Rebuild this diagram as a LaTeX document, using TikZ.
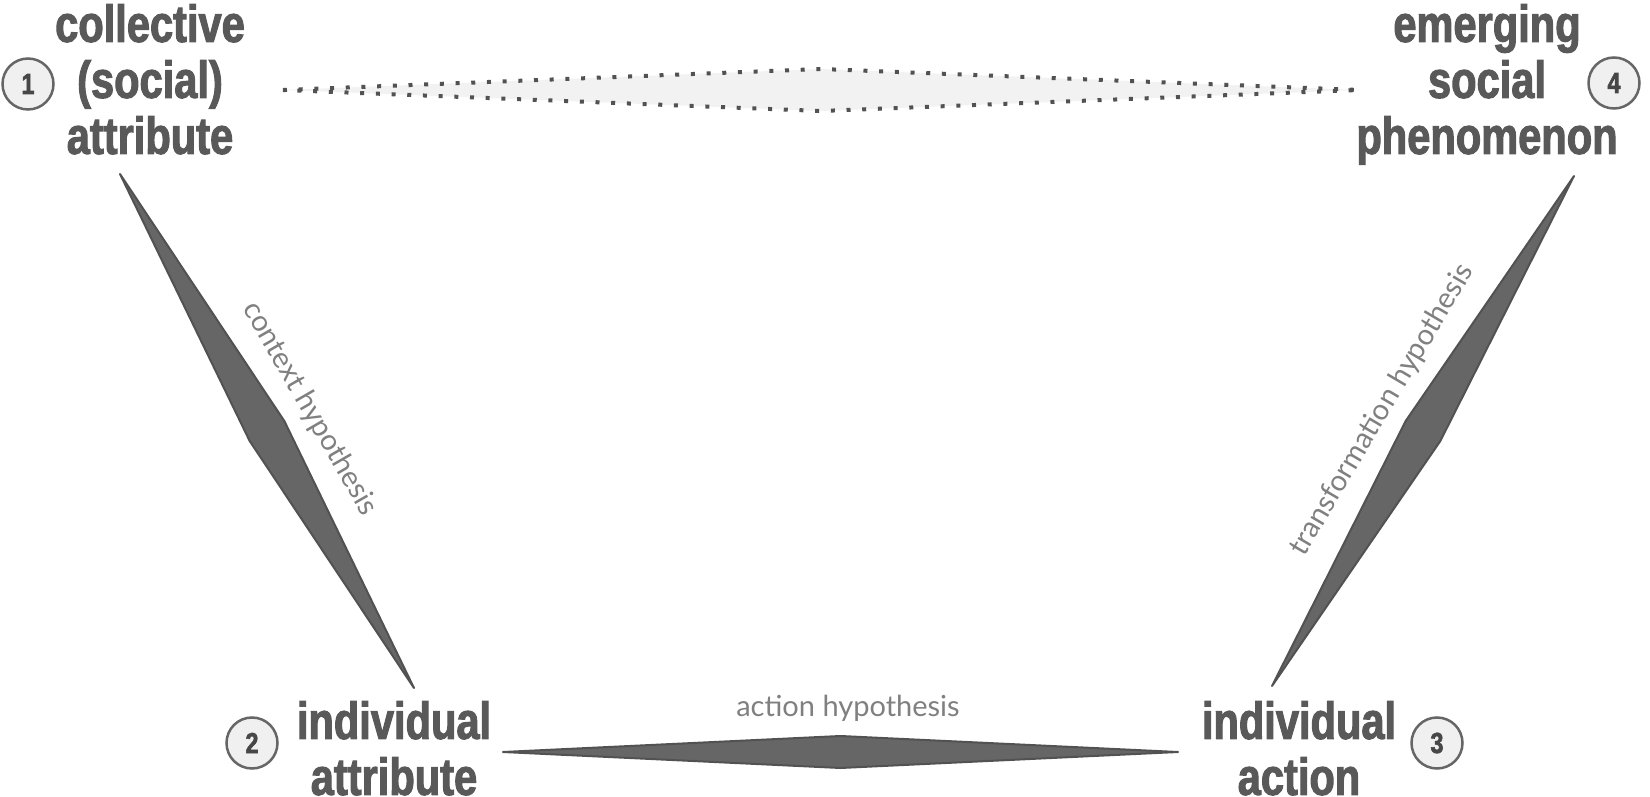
\documentclass[tikz,border=0pt]{standalone}
\usepackage{fontspec}
\setmainfont{Lato}
\newfontfamily\headfont[FakeStretch=0.8,FakeBold=2]{Liberation Sans}
\usetikzlibrary{calc}
\definecolor{inkgray}{HTML}{595959}

\begin{document}
\begin{tikzpicture}[x=1pt,y=1pt,
  level/.style={align=center, anchor=north, inner sep=0pt, text=inkgray,
    font=\headfont\bfseries\fontsize{52}{56}\selectfont},
  num/.style={circle, draw=black!60, line width=2.5pt, fill=black!6,
    minimum size=51pt, inner sep=0pt, text=black!72,
    font=\headfont\bfseries\fontsize{29}{29}\selectfont},
  hypo/.style={inner sep=0pt, text=black!50, font=\fontsize{29}{29}\selectfont},
  link/.style={fill=black!60, draw=black!68, line width=2pt, line join=round},
  weak/.style={fill=black!5, draw=black!68, line width=4pt,
    dash pattern=on 4pt off 11.7pt}]

  \useasboundingbox (0,0) rectangle (1650,796);

  % Collective level

  \node[level] (colattr) at (150,792) {collective\\(social)\\attribute};
  \node[num] (num1) at (28,712) {1};

  \node[level] (emsoc) at (1487,792) {emerging\\social\\phenomenon};
  \node[num] (num4) at (1614,713) {4};

  % Individual level

  \node[level] (indattr) at (394,95) {individual\\attribute};
  \node[num] (num2) at (252,53) {2};

  \node[level] (indact) at (1299,95) {individual\\action};
  \node[num] (num3) at (1437,53) {3};

  % Ends of the links

  \coordinate (d1) at (283,706);
  \coordinate (d4) at (1359,706);
  \coordinate (c1) at (120,622);
  \coordinate (c2) at (414,108);
  \coordinate (a2) at (503,44);
  \coordinate (a3) at (1178,44);
  \coordinate (t3) at (1272,110);
  \coordinate (t4) at (1574,620);

  % Macro link (dotted)

  \path[weak] (d1) -- ($(d1)!0.5!(d4)!21pt!90:(d4)$) -- (d4)
    -- ($(d1)!0.5!(d4)!21pt!-90:(d4)$) -- cycle;

  % Context hypothesis

  \path[link] (c1) -- ($(c1)!0.5!(c2)!20pt!90:(c2)$) -- (c2)
    -- ($(c1)!0.5!(c2)!20pt!-90:(c2)$) -- cycle;
  \node[hypo, rotate=-60] (ctxlbl) at (310,387) {context hypothesis};

  % Action hypothesis

  \path[link] (a2) -- ($(a2)!0.5!(a3)!16pt!90:(a3)$) -- (a3)
    -- ($(a2)!0.5!(a3)!16pt!-90:(a3)$) -- cycle;
  \node[hypo] (actlbl) at (848,88) {action hypothesis};

  % Transformation hypothesis

  \path[link] (t3) -- ($(t3)!0.5!(t4)!20pt!90:(t4)$) -- (t4)
    -- ($(t3)!0.5!(t4)!20pt!-90:(t4)$) -- cycle;
  \node[hypo, rotate=59.4] (trflbl) at (1382,386) {transformation hypothesis};

\end{tikzpicture}
\end{document}
